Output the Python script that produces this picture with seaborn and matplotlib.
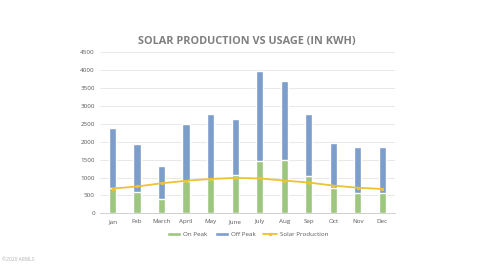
import numpy as np
import pandas as pd
import matplotlib
matplotlib.use('Agg')
import matplotlib.pyplot as plt
import seaborn as sns

months = ['Jan', 'Feb', 'March', 'April', 'May', 'June', 'July', 'Aug', 'Sep', 'Oct', 'Nov', 'Dec']
on_peak = [700, 600, 400, 900, 970, 1070, 1460, 1500, 1050, 700, 580, 580]
off_peak = [1690, 1330, 930, 1600, 1810, 1580, 2510, 2200, 1740, 1270, 1270, 1270]
solar = [690, 750, 840, 910, 960, 990, 975, 915, 860, 775, 715, 680]

df = pd.DataFrame({'month': months, 'on': on_peak, 'off': off_peak, 'solar': solar})
df['total'] = df['on'] + df['off']

green = '#9dc77f'
blue = '#7d9dcb'
gold = '#edc234'

sns.set_style('white')
plt.rcParams['font.family'] = ['Open Sans', 'DejaVu Sans']

fig = plt.figure(figsize=(4.8, 2.7), dpi=100)
ax = fig.add_axes([0.209, 0.21, 0.613, 0.596])

# stacked look: total in blue, on-peak in green drawn over it
sns.barplot(df, x='month', y='total', color=blue, width=0.3, ax=ax, saturation=1, label='Off Peak')
sns.barplot(df, x='month', y='on', color=green, width=0.3, ax=ax, saturation=1, label='On Peak')
sns.lineplot(df, x='month', y='solar', color=gold, marker='o', markersize=2.5, markeredgewidth=0,
             linewidth=1.3, sort=False, ax=ax, label='Solar Production')

ax.set_ylim(0, 4500)
ax.set_yticks(np.arange(0, 4501, 500))
ax.set_xlim(-0.5, 11.5)
ax.grid(axis='y', color='#e4e4e4', linewidth=0.6)
ax.set_axisbelow(True)
for s in ['top', 'right', 'left']:
    ax.spines[s].set_visible(False)
ax.spines['bottom'].set_color('#d0d0d0')
ax.spines['bottom'].set_linewidth(0.7)
ax.tick_params(axis='both', length=0, labelsize=4.5, colors='#595959', pad=4)
ax.set_xlabel('')
ax.set_ylabel('')

handles, labels = ax.get_legend_handles_labels()
order = [labels.index('On Peak'), labels.index('Off Peak'), labels.index('Solar Production')]
ax.legend([handles[i] for i in order], [labels[i] for i in order], loc='upper center',
          bbox_to_anchor=(0.5, -0.08), ncol=3, frameon=False, fontsize=4.5,
          handlelength=2.2, handleheight=0.6, columnspacing=1.2, handletextpad=0.4,
          labelcolor='#595959')

fig.text(0.515, 0.845, 'SOLAR PRODUCTION VS USAGE (IN KWH)', ha='center', va='center',
         fontsize=7.8, fontweight='bold', color='#7f7f7f')
fig.text(0.005, 0.035, '\u00a92020 ARMLS', fontsize=3.5, color='#b0b0b0')

fig.savefig('out.png', dpi=100, facecolor='white')
